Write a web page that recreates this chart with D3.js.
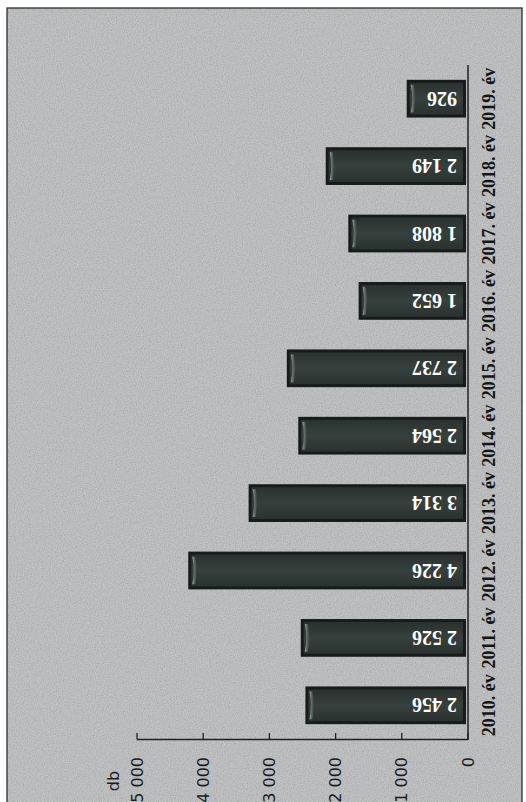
<!DOCTYPE html>
<html>
<head>
<meta charset="utf-8">
<script src="https://cdn.jsdelivr.net/npm/d3@7/dist/d3.min.js"></script>
<style>
  html, body { margin: 0; padding: 0; background: #ffffff; }
  svg { display: block; }
</style>
</head>
<body>
<svg id="chart" width="526" height="802"></svg>
<script>
// ---- data ----
const categories = ["2010. év","2011. év","2012. év","2013. év","2014. év","2015. év","2016. év","2017. év","2018. év","2019. év"];
const values = [2456, 2526, 4226, 3314, 2564, 2737, 1652, 1808, 2149, 926];
const valueLabels = ["2 456","2 526","4 226","3 314","2 564","2 737","1 652","1 808","2 149","926"];
const tickValues = [0, 1000, 2000, 3000, 4000, 5000];
const tickLabels = ["0","1 000","2 000","3 000","4 000","5 000"];
const unitLabel = "db";

const svg = d3.select("#chart");
const defs = svg.append("defs");

// scanned-paper noise
const f = defs.append("filter").attr("id","noise").attr("x",0).attr("y",0).attr("width","100%").attr("height","100%");
f.append("feTurbulence").attr("type","fractalNoise").attr("baseFrequency",0.85).attr("numOctaves",2).attr("seed",3).attr("result","t");
f.append("feColorMatrix").attr("in","t").attr("type","matrix")
  .attr("values","1 0 0 0 0  1 0 0 0 0  1 0 0 0 0  0 0 0 0 0.22");

// bar gradients
const g1 = defs.append("linearGradient").attr("id","barFill").attr("x1",0).attr("y1",0).attr("x2",0).attr("y2",1);
g1.append("stop").attr("offset","0%").attr("stop-color","#2a322f");
g1.append("stop").attr("offset","50%").attr("stop-color","#36403c");
g1.append("stop").attr("offset","100%").attr("stop-color","#2a322f");
const g2 = defs.append("linearGradient").attr("id","hl").attr("x1",0).attr("y1",0).attr("x2",1).attr("y2",0);
g2.append("stop").attr("offset","0%").attr("stop-color","#a9b2ae").attr("stop-opacity",0.9);
g2.append("stop").attr("offset","100%").attr("stop-color","#5f6a66").attr("stop-opacity",0.2);

// background panel with frame
svg.append("rect").attr("x",7).attr("y",8).attr("width",515).attr("height",800)
  .attr("fill","#b9bbbd");
svg.append("rect").attr("x",7).attr("y",8).attr("width",515).attr("height",800)
  .attr("filter","url(#noise)").attr("fill","#fff");
svg.append("rect").attr("x",7).attr("y",8).attr("width",515).attr("height",800)
  .attr("fill","none").attr("stroke","#2c302e").attr("stroke-width",1.3);

// scales (chart is rotated: values run right->left, categories bottom->top)
const x = d3.scaleLinear().domain([0, 5000]).range([468, 137]);
const y = d3.scaleBand().domain(categories).range([739, 65]).paddingInner(0.44).paddingOuter(0.22);
const bw = y.bandwidth();

// bars
const bars = svg.append("g").selectAll("g").data(values).join("g");
bars.append("rect")
  .attr("x", d => x(d)).attr("y", (d,i) => y(categories[i]))
  .attr("width", d => x(0) - 2 - x(d)).attr("height", bw)
  .attr("fill","#171c1a");
bars.append("rect")
  .attr("x", d => x(d) + 3).attr("y", (d,i) => y(categories[i]) + 3)
  .attr("width", d => x(0) - 2 - x(d) - 6).attr("height", bw - 6)
  .attr("fill","url(#barFill)");
bars.append("path")
  .attr("d", (d,i) => {
    const x0 = x(d) + 4, y0 = y(categories[i]) + 5, y1 = y(categories[i]) + bw - 5;
    return `M${x0},${y0} L${x0+3},${y0} Q${x0+6},${(y0+y1)/2} ${x0+3},${y1} L${x0},${y1} Q${x0+3},${(y0+y1)/2} ${x0},${y0} Z`;
  })
  .attr("fill","url(#hl)");

// value labels (upside-down)
svg.append("g").selectAll("text").data(values).join("text")
  .attr("transform", (d,i) => `translate(${x(0) - 11},${y(categories[i]) + bw/2}) rotate(180)`)
  .attr("text-anchor","start").attr("dy","0.35em")
  .attr("font-family","'Liberation Serif', 'Times New Roman', serif")
  .attr("font-weight","bold").attr("font-size","20px").attr("fill","#ffffff")
  .text((d,i) => valueLabels[i]);

// category axis line
svg.append("line").attr("x1",468).attr("x2",468).attr("y1",65).attr("y2",740)
  .attr("stroke","#1e2220").attr("stroke-width",1.5);
// category labels
svg.append("g").selectAll("text").data(categories).join("text")
  .attr("transform", d => `translate(489,${y(d) + bw/2}) rotate(-90)`)
  .attr("text-anchor","middle").attr("dy","0.35em")
  .attr("font-family","'Liberation Serif', 'Times New Roman', serif")
  .attr("font-weight","bold").attr("font-size","18px").attr("fill","#141614")
  .text(d => d);

// value axis
const ax = svg.append("g");
ax.append("line").attr("x1", x(5000)).attr("x2", x(0)).attr("y1",739.5).attr("y2",739.5)
  .attr("stroke","#1e2220").attr("stroke-width",1.5);
ax.selectAll("line.tick").data(tickValues).join("line").attr("class","tick")
  .attr("x1", d => x(d)).attr("x2", d => x(d)).attr("y1",739.5).attr("y2",733)
  .attr("stroke","#1e2220").attr("stroke-width",1.3);
ax.selectAll("text").data(tickValues).join("text")
  .attr("transform", d => `translate(${x(d)},757) rotate(-90)`)
  .attr("text-anchor","end").attr("dy","0.35em")
  .attr("font-family","'DejaVu Sans', sans-serif").attr("font-size","16px").attr("fill","#1a1c1b")
  .text((d,i) => tickLabels[i]);
svg.append("text")
  .attr("transform", `translate(113,781) rotate(-90)`)
  .attr("text-anchor","middle").attr("dy","0.35em")
  .attr("font-family","'DejaVu Sans', sans-serif").attr("font-size","16px").attr("fill","#1a1c1b")
  .text(unitLabel);
</script>
</body>
</html>
